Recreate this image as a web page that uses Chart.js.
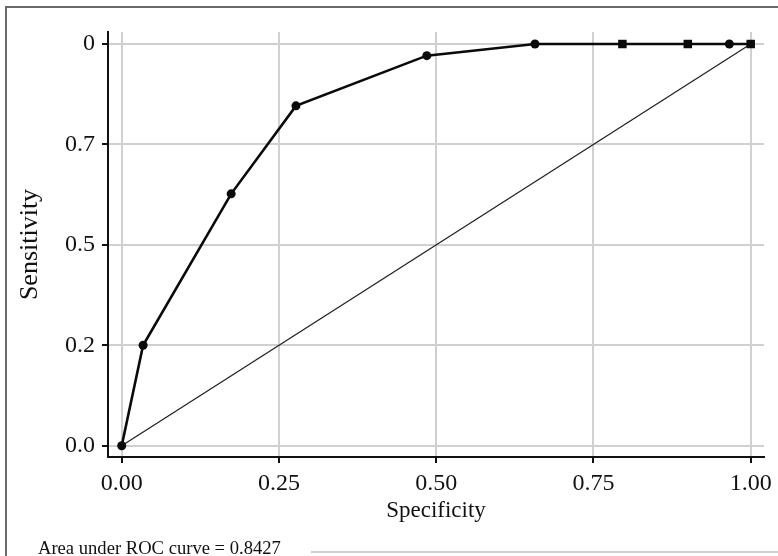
<!DOCTYPE html>
<html>
<head>
<meta charset="utf-8">
<script src="https://cdn.jsdelivr.net/npm/chart.js@4.4.1/dist/chart.umd.min.js"></script>
<style>
  html, body { margin: 0; padding: 0; background: #fff; }
  #wrap { position: relative; width: 778px; height: 556px; overflow: hidden; }
  #frame { position: absolute; left: 5px; top: 6px; width: 780px; height: 560px;
           border-left: 2px solid #6a6a6a; border-top: 2px solid #6a6a6a; }
  #bottomLine { position: absolute; left: 311px; top: 551px; width: 470px; height: 0;
                border-top: 2px solid #cfcfcf; }
  #auc { position: absolute; left: 38px; top: 539px; font: 18.6px/18px "Liberation Serif", serif;
         color: #111; white-space: nowrap; }
  canvas { position: absolute; left: 0; top: 0; }
</style>
</head>
<body>
<div id="wrap">
  <div id="frame"></div>
  <div id="bottomLine"></div>
  <canvas id="roc" width="778" height="556"></canvas>
  <div id="auc">Area under ROC curve = 0.8427</div>
</div>
<script>
// ROC points (x = specificity axis, y = sensitivity)
const specificity = [0, 0.034, 0.174, 0.277, 0.485, 0.657, 0.796, 0.900, 0.966, 1.0]
const sensitivity = [0, 0.25, 0.627, 0.846, 0.971, 1.0, 1.0, 1.0, 1.0, 1.0]
const markerStyles = ['circle', 'circle', 'circle', 'circle', 'circle', 'circle', 'rect', 'rect', 'circle', 'rect']

// reference diagonal
const diagX = [0, 1]
const diagY = [0, 1]

const xTickValues = [0, 0.25, 0.5, 0.75, 1]
const xTickLabels = ['0.00', '0.25', '0.50', '0.75', '1.00']
const yTickValues = [0, 0.25, 0.5, 0.75, 1]
const yTickLabels = ['0.0', '0.2', '0.5', '0.7', '0']

const serif = '"Liberation Serif", "Times New Roman", serif'
const gridGray = '#d0d0d0'

const toPoints = (xs, ys) => xs.map((x, i) => ({ x, y: ys[i] }))
// squares look a bit smaller than circles at the same radius
const markerRadius = markerStyles.map(s => (s === 'rect' ? 6 : 4.5))

new Chart(document.getElementById('roc'), {
  type: 'scatter',
  data: {
    datasets: [
      {
        data: toPoints(specificity, sensitivity),
        showLine: true,
        borderColor: '#0a0a0a',
        backgroundColor: '#0a0a0a',
        borderWidth: 2.6,
        pointRadius: markerRadius,
        pointStyle: markerStyles,
        pointBackgroundColor: '#0a0a0a',
        pointBorderWidth: 0,
        order: 0,
      },
      {
        data: toPoints(diagX, diagY),
        showLine: true,
        borderColor: '#222',
        borderWidth: 1.3,
        pointRadius: 0,
        order: 1,
      },
    ],
  },
  options: {
    responsive: false,
    animation: false,
    layout: { padding: { left: 0, top: 32, right: 14, bottom: 0 } },
    plugins: { legend: { display: false }, tooltip: { enabled: false } },
    scales: {
      x: {
        type: 'linear',
        min: -0.0218,
        max: 1.0211,
        afterBuildTicks: s => { s.ticks = xTickValues.map(v => ({ value: v })) },
        afterFit: s => { s.height = 99 },
        grid: { color: gridGray, lineWidth: 2, tickColor: '#111', tickLength: 6, tickWidth: 2 },
        border: { color: '#111', width: 2 },
        ticks: {
          color: '#111',
          font: { family: serif, size: 24 },
          padding: 6,
          maxRotation: 0,
          callback: (v, i) => xTickLabels[i],
        },
        title: {
          display: true,
          text: 'Specificity',
          color: '#111',
          font: { family: serif, size: 23 },
          padding: { top: 0, bottom: 31 },
        },
      },
      y: {
        type: 'linear',
        min: -0.0281,
        max: 1.0299,
        afterBuildTicks: s => { s.ticks = yTickValues.map(v => ({ value: v })) },
        afterFit: s => { s.width = 108 },
        grid: { color: gridGray, lineWidth: 2, tickColor: '#111', tickLength: 6, tickWidth: 2 },
        border: { color: '#111', width: 2 },
        ticks: {
          color: '#111',
          font: { family: serif, size: 24 },
          padding: 7,
          callback: (v, i) => yTickLabels[i],
        },
        title: {
          display: true,
          text: 'Sensitivity',
          color: '#111',
          font: { family: serif, size: 26 },
          padding: { top: 15, bottom: 0 },
        },
      },
    },
  },
})
</script>
</body>
</html>
